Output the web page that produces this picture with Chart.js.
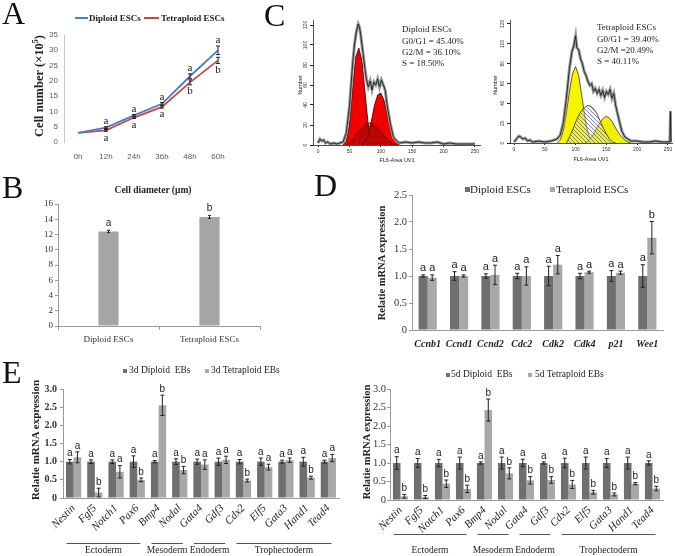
<!DOCTYPE html>
<html>
<head>
<meta charset="utf-8">
<title>Diploid vs tetraploid ESCs</title>
<script src="https://cdn.jsdelivr.net/npm/chart.js@4.4.1/dist/chart.umd.min.js"></script>
<style>
  body { margin: 0; background: #fff; }
  #fig { position: relative; width: 675px; height: 556px; overflow: hidden; font-family: "Liberation Serif", serif; color: #222; }
  #fig canvas { position: absolute; }
  .t { position: absolute; white-space: nowrap; line-height: 1; }
  .letter { font-size: 32px; color: #111; }
  .mid { transform: translate(-50%, -50%); }
  .rot { transform: translate(-50%, -50%) rotate(-90deg); }
  .lft { transform: translateY(-50%); }
  .sw { position: absolute; }
  .fc { font-size: 9px; }
  .tiny { font-family: "Liberation Sans", sans-serif; font-size: 5.5px; }
</style>
</head>
<body>
<div id="fig">
  <canvas id="chartA" width="240" height="170" style="left:0;top:0"></canvas>
  <canvas id="chartB" width="300" height="180" style="left:0;top:170px"></canvas>
  <canvas id="chartC1" width="200" height="160" style="left:285px;top:10px"></canvas>
  <canvas id="chartC2" width="193" height="160" style="left:482px;top:10px"></canvas>
  <canvas id="chartD" width="375" height="180" style="left:300px;top:170px"></canvas>
  <canvas id="chartE1" width="340" height="206" style="left:0;top:350px"></canvas>
  <canvas id="chartE2" width="340" height="206" style="left:335px;top:350px"></canvas>

  <!-- panel letters -->
  <div class="t letter" style="left:2px;top:-3px">A</div>
  <div class="t letter" style="left:2px;top:171px">B</div>
  <div class="t letter" style="left:264px;top:-1px">C</div>
  <div class="t letter" style="left:314px;top:169px">D</div>
  <div class="t letter" style="left:2px;top:356px">E</div>

  <!-- A legend + axis title -->
  <div class="sw" style="left:75px;top:17px;width:13px;height:2px;background:#4a7ebb"></div>
  <div class="t lft" style="left:89px;top:18px;font-size:9px;font-weight:bold">Diploid ESCs</div>
  <div class="sw" style="left:144px;top:17px;width:15px;height:2px;background:#be4b48"></div>
  <div class="t lft" style="left:161px;top:18px;font-size:9px;font-weight:bold">Tetraploid ESCs</div>
  <div class="t rot" style="left:39px;top:86px;font-size:12.5px;font-weight:bold">Cell number (×10<sup style="font-size:8px">5</sup>)</div>

  <!-- B title -->
  <div class="t mid" style="left:153px;top:191px;font-size:9.5px;font-weight:bold">Cell diameter (μm)</div>

  <!-- C texts -->
  <div class="t lft fc" style="left:402px;top:29px">Diploid ESCs</div>
  <div class="t lft fc" style="left:402px;top:41px">G0/G1 = 45.40%</div>
  <div class="t lft fc" style="left:402px;top:52px">G2/M = 36.10%</div>
  <div class="t lft fc" style="left:402px;top:63px">S = 18.50%</div>
  <div class="t lft fc" style="left:597px;top:27px">Tetraploid ESCs</div>
  <div class="t lft fc" style="left:597px;top:39px">G0/G1 = 39.40%</div>
  <div class="t lft fc" style="left:597px;top:50px">G2/M =20.49%</div>
  <div class="t lft fc" style="left:597px;top:61px">S = 40.11%</div>
  <div class="t rot tiny" style="left:301px;top:85px">Number</div>
  <div class="t rot tiny" style="left:496px;top:85px">Number</div>
  <div class="t mid tiny" style="left:397px;top:161px">FL6-Area UV1</div>
  <div class="t mid tiny" style="left:591px;top:160px">FL6-Area UV1</div>

  <!-- D legend + axis title -->
  <div class="sw" style="left:465px;top:187px;width:5px;height:5px;background:#6f6f6f"></div>
  <div class="t lft" style="left:470px;top:189px;font-size:11px">Diploid ESCs</div>
  <div class="sw" style="left:550px;top:187px;width:5px;height:5px;background:#a8a8a8"></div>
  <div class="t lft" style="left:556px;top:189px;font-size:11px">Tetraploid ESCs</div>
  <div class="t rot" style="left:382px;top:263px;font-size:10.5px;font-weight:bold">Relatie mRNA expression</div>

  <!-- E legends + axis titles -->
  <div class="sw" style="left:123px;top:369px;width:4px;height:4px;background:#6f6f6f"></div>
  <div class="t lft" style="left:129px;top:371px;font-size:9.5px">3d Diploid&nbsp; EBs</div>
  <div class="sw" style="left:205px;top:369px;width:4px;height:4px;background:#a8a8a8"></div>
  <div class="t lft" style="left:211px;top:371px;font-size:9.5px">3d Tetraploid EBs</div>
  <div class="t rot" style="left:35px;top:440px;font-size:11px;font-weight:bold">Relatie mRNA expression</div>

  <div class="sw" style="left:446px;top:373px;width:4px;height:4px;background:#6f6f6f"></div>
  <div class="t lft" style="left:451px;top:375px;font-size:9.5px">5d Diploid&nbsp; EBs</div>
  <div class="sw" style="left:528px;top:373px;width:4px;height:4px;background:#a8a8a8"></div>
  <div class="t lft" style="left:535px;top:375px;font-size:9.5px">5d Tetraploid EBs</div>
  <div class="t rot" style="left:367px;top:442px;font-size:10.5px;font-weight:bold">Relatie mRNA expression</div>
</div>

<script>
// ---- A: growth curve ----
const hours = ['0h', '12h', '24h', '36h', '48h', '60h'];
const diploidCount = [3, 4.7, 8.7, 12.5, 21.5, 30];
const diploidCountErr = [0, 0.3, 0.3, 0.4, 0.8, 1.4];
const diploidCountSig = ['', 'a', 'a', 'a', 'a', 'a'];
const tetraCount = [3, 3.8, 8, 11.5, 19.5, 26.7];
const tetraCountErr = [0, 0.3, 0.3, 0.4, 0.8, 1.0];
const tetraCountSig = ['', 'a', 'a', 'a', 'b', 'b'];

// ---- B: cell diameter ----
const cellTypes = ['Diploid ESCs', 'Tetraploid ESCs'];
const diameter = [12.4, 14.3];
const diameterErr = [0.15, 0.2];
const diameterSig = ['a', 'b'];

// ---- C: flow cytometry (FL6-Area vs count) ----
const dipTraceX = [0, 3, 6, 9, 12, 15, 20, 25, 30, 35, 40, 45, 50, 55, 58, 61, 64, 66, 68, 71, 74, 77, 80, 83, 86, 89, 92, 95, 98, 101, 104, 107, 110, 115, 120, 125, 130, 140, 150, 160, 170, 180, 190, 200, 210, 220, 230, 240, 250];
const dipTraceY = [2, 6, 4, 5, 2, 3, 1, 2, 1, 2, 3, 12, 38, 80, 100, 113, 121, 118, 110, 95, 80, 66, 58, 64, 55, 63, 60, 66, 58, 65, 60, 55, 40, 22, 8, 4, 2, 3, 2, 3, 2, 2, 3, 1, 2, 1, 1, 1, 1];
const dipG1X = [40, 45, 50, 55, 60, 65, 70, 75, 80, 85, 90];
const dipG1Y = [0, 4, 20, 55, 88, 97, 84, 52, 20, 5, 0];
const dipSX = [45, 50, 55, 60, 65, 70, 75, 80, 85, 90, 95, 100, 105, 110, 115, 120, 125];
const dipSY = [0, 2, 5, 9, 13, 17, 20, 22, 22, 20, 17, 13, 9, 5, 3, 1, 0];
const dipG2X = [70, 75, 80, 85, 90, 95, 100, 105, 110, 115, 120, 125, 130];
const dipG2Y = [0, 3, 10, 24, 40, 50, 52, 45, 32, 18, 7, 2, 0];

const tetTraceX = [0, 4, 8, 11, 14, 18, 22, 26, 30, 40, 50, 60, 65, 70, 75, 80, 85, 90, 94, 97, 100, 102, 105, 108, 111, 114, 117, 120, 123, 126, 129, 132, 135, 138, 141, 144, 147, 150, 153, 156, 159, 162, 165, 168, 171, 175, 180, 185, 190, 200, 210, 220, 230, 240, 250, 253, 254, 255];
const tetTraceY = [1, 4, 7, 6, 4, 5, 2, 3, 1, 2, 1, 2, 3, 4, 8, 20, 45, 75, 92, 98, 108, 96, 94, 85, 80, 72, 68, 62, 58, 60, 52, 55, 50, 54, 48, 53, 46, 52, 49, 54, 45, 50, 38, 30, 22, 12, 6, 4, 2, 2, 1, 1, 2, 1, 1, 1, 32, 1];
const tetG1X = [70, 75, 80, 85, 90, 95, 100, 105, 110, 115, 120, 125, 130];
const tetG1Y = [0, 3, 12, 30, 52, 70, 77, 68, 48, 26, 10, 3, 0];
const tetSX = [85, 90, 95, 100, 105, 110, 115, 120, 125, 130, 135, 140, 145, 150, 155, 160, 165];
const tetSY = [0, 6, 13, 21, 28, 33, 36, 38, 37, 34, 29, 22, 15, 9, 4, 1, 0];
const tetG2X = [115, 120, 125, 130, 135, 140, 145, 150, 155, 160, 165, 170, 175, 180, 185, 190];
const tetG2Y = [0, 2, 5, 10, 16, 21, 25, 27, 25, 21, 15, 10, 6, 3, 1, 0];

// ---- D: cell cycle genes ----
const cycleGenes = ['Ccnb1', 'Ccnd1', 'Ccnd2', 'Cdc2', 'Cdk2', 'Cdk4', 'p21', 'Wee1'];
const cycleDip = [1, 1, 1, 1, 1, 1, 1, 1];
const cycleDipErr = [0.02, 0.08, 0.04, 0.05, 0.18, 0.05, 0.1, 0.21];
const cycleDipSig = ['a', 'a', 'a', 'a', 'a', 'a', 'a', 'a'];
const cycleTet = [0.97, 1.0, 1.02, 1.0, 1.21, 1.07, 1.06, 1.71];
const cycleTetErr = [0.05, 0.02, 0.18, 0.17, 0.17, 0.02, 0.03, 0.30];
const cycleTetSig = ['a', 'a', 'a', 'a', 'a', 'a', 'a', 'b'];

// ---- E: lineage markers in EBs ----
const lineageGenes = ['Nestin', 'Fgf5', 'Notch1', 'Pax6', 'Bmp4', 'Nodal', 'Gata4', 'Gdf3', 'Cdx2', 'Elf5', 'Gata3', 'Hand1', 'Tead4'];
const germLayers = ['Ectoderm', 'Mesoderm', 'Endoderm', 'Trophectoderm'];
const layerFirst = [0, 4, 6, 8];
const layerLast = [3, 5, 7, 12];

const dip3 = [1, 1, 1, 1, 1, 1, 1, 1, 1, 1, 1, 1, 1];
const dip3Err = [0.06, 0.05, 0.05, 0.16, 0.03, 0.08, 0.07, 0.1, 0.06, 0.1, 0.04, 0.12, 0.04];
const dip3Sig = ['a', 'a', 'a', 'a', 'a', 'a', 'a', 'a', 'a', 'a', 'a', 'a', 'a'];
const tet3 = [1.12, 0.15, 0.72, 0.5, 2.55, 0.77, 0.92, 1.05, 0.48, 0.85, 1.04, 0.56, 1.1];
const tet3Err = [0.15, 0.12, 0.17, 0.05, 0.28, 0.1, 0.13, 0.1, 0.04, 0.08, 0.06, 0.04, 0.1];
const tet3Sig = ['a', 'b', 'a', 'b', 'b', 'b', 'a', 'a', 'b', 'a', 'a', 'b', 'a'];

const dip5 = [1, 1, 1, 1, 1, 1, 1, 1, 1, 1, 1, 1, 1];
const dip5Err = [0.17, 0.12, 0.1, 0.16, 0.03, 0.16, 0.1, 0.03, 0.13, 0.16, 0.12, 0.16, 0.06];
const dip5Sig = ['a', 'a', 'a', 'a', 'a', 'a', 'a', 'a', 'a', 'a', 'a', 'a', 'a'];
const tet5 = [0.1, 0.08, 0.44, 0.3, 2.43, 0.72, 0.53, 0.54, 0.42, 0.21, 0.15, 0.44, 0.31];
const tet5Err = [0.05, 0.04, 0.1, 0.1, 0.3, 0.15, 0.1, 0.09, 0.11, 0.05, 0.04, 0.03, 0.06];
const tet5Sig = ['b', 'b', 'b', 'b', 'b', 'b', 'b', 'b', 'b', 'b', 'b', 'b', 'b'];

const DARK = '#6f6f6f';
const LIGHT = '#a8a8a8';
const SERIF = 'Liberation Serif';
const SANS = 'Liberation Sans';

Chart.defaults.animation = false;
Chart.defaults.responsive = false;
Chart.defaults.devicePixelRatio = 1;
Chart.defaults.font.family = SERIF;
Chart.defaults.plugins.legend.display = false;
Chart.defaults.plugins.tooltip.enabled = false;

// error bars + significance letters, read from dataset.err / dataset.sig
const errorBars = {
  id: 'errorBars',
  afterDatasetsDraw(chart, args, opts) {
    const ctx = chart.ctx;
    const ys = chart.scales.y;
    chart.data.datasets.forEach((ds, di) => {
      if (!ds.err) return;
      const meta = chart.getDatasetMeta(di);
      meta.data.forEach((el, i) => {
        const v = ds.data[i], e = ds.err[i];
        const x = el.x;
        const top = ys.getPixelForValue(v + e);
        const bot = ys.getPixelForValue(v - e);
        ctx.save();
        ctx.strokeStyle = '#222';
        ctx.lineWidth = 1;
        if (e > 0) {
          ctx.beginPath();
          ctx.moveTo(x, top); ctx.lineTo(x, bot);
          ctx.moveTo(x - opts.cap, top); ctx.lineTo(x + opts.cap, top);
          ctx.moveTo(x - opts.cap, bot); ctx.lineTo(x + opts.cap, bot);
          ctx.stroke();
        }
        if (ds.sig && ds.sig[i]) {
          ctx.font = opts.font;
          ctx.fillStyle = '#222';
          ctx.textAlign = 'center';
          if (ds.sigBelow) {
            ctx.textBaseline = 'top';
            ctx.fillText(ds.sig[i], x, bot + opts.below);
          } else {
            ctx.textBaseline = 'bottom';
            ctx.fillText(ds.sig[i], x, top - opts.gap);
          }
        }
        ctx.restore();
      });
    });
  }
};

// germ layer brackets under panel E
function germLayerPlugin(lineY, textY) {
  return {
    id: 'germLayers',
    afterDraw(chart) {
      const ctx = chart.ctx, xs = chart.scales.x;
      ctx.save();
      ctx.strokeStyle = '#555';
      ctx.lineWidth = 1;
      ctx.fillStyle = '#222';
      ctx.font = '9.5px "' + SERIF + '"';
      ctx.textAlign = 'center';
      ctx.textBaseline = 'middle';
      germLayers.forEach((name, k) => {
        const x0 = xs.getPixelForValue(layerFirst[k]) - 7;
        const x1 = xs.getPixelForValue(layerLast[k]) + 3;
        ctx.beginPath();
        ctx.moveTo(x0, lineY + 0.5);
        ctx.lineTo(x1, lineY + 0.5);
        ctx.stroke();
        ctx.fillText(name, (x0 + x1) / 2, textY);
      });
      ctx.restore();
    }
  };
}

// rotated y tick labels for the flow histograms
const rotYTicks = {
  id: 'rotYTicks',
  afterDraw(chart) {
    const s = chart.scales.y, ctx = chart.ctx;
    ctx.save();
    ctx.font = '5px "' + SANS + '"';
    ctx.fillStyle = '#333';
    ctx.textAlign = 'center';
    ctx.textBaseline = 'middle';
    s.ticks.forEach(t => {
      ctx.save();
      ctx.translate(s.right - 7, s.getPixelForValue(t.value));
      ctx.rotate(-Math.PI / 2);
      ctx.fillText(String(t.value), 0, 0);
      ctx.restore();
    });
    ctx.restore();
  }
};

function hatch(bg, line) {
  const c = document.createElement('canvas');
  c.width = 4; c.height = 4;
  const g = c.getContext('2d');
  if (bg) { g.fillStyle = bg; g.fillRect(0, 0, 4, 4); }
  g.strokeStyle = line;
  g.lineWidth = 0.8;
  g.beginPath();
  g.moveTo(0, 0); g.lineTo(4, 4);
  g.moveTo(-1, 3); g.lineTo(1, 5);
  g.moveTo(3, -1); g.lineTo(5, 1);
  g.stroke();
  return g.createPattern(c, 'repeat');
}

function pts(xs, ys) {
  return xs.map((x, i) => ({ x: x, y: ys[i] }));
}

// ---- A ----
new Chart(document.getElementById('chartA'), {
  type: 'line',
  data: {
    labels: hours,
    datasets: [
      { data: diploidCount, err: diploidCountErr, sig: diploidCountSig, borderColor: '#4a7ebb', borderWidth: 1.8, pointRadius: 0 },
      { data: tetraCount, err: tetraCountErr, sig: tetraCountSig, sigBelow: true, borderColor: '#be4b48', borderWidth: 1.8, pointRadius: 0 }
    ]
  },
  options: {
    layout: { padding: { left: 0, right: 8, top: 35, bottom: 0 } },
    scales: {
      x: {
        offset: true,
        grid: { display: false, drawTicks: false },
        border: { display: false },
        ticks: { font: { family: SANS, size: 8 }, color: '#595959', padding: 10 },
        afterFit: s => { s.height = 28; s.paddingLeft = 0; s.paddingRight = 0; }
      },
      y: {
        min: 0, max: 35,
        ticks: { stepSize: 5, font: { family: SANS, size: 8 }, color: '#595959', padding: 6 },
        grid: { display: false, drawTicks: false },
        border: { color: '#c8c8c8' },
        afterFit: s => { s.width = 64; }
      }
    },
    plugins: { errorBars: { cap: 2, gap: 0, below: 1, font: '11px "' + SERIF + '"' } }
  },
  plugins: [errorBars]
});

// ---- B ----
new Chart(document.getElementById('chartB'), {
  type: 'bar',
  data: {
    labels: cellTypes,
    datasets: [{ data: diameter, err: diameterErr, sig: diameterSig, backgroundColor: '#a5a5a5', barPercentage: 0.2, categoryPercentage: 1 }]
  },
  options: {
    layout: { padding: { left: 0, right: 40, top: 34, bottom: 0 } },
    scales: {
      x: {
        grid: { offset: true, drawOnChartArea: false, tickLength: 4, color: '#999' },
        border: { color: '#999' },
        ticks: { font: { size: 9 }, color: '#333', padding: 4 },
        afterFit: s => { s.height = 24; s.paddingLeft = 0; s.paddingRight = 0; }
      },
      y: {
        min: 0, max: 16,
        ticks: { stepSize: 2, font: { size: 9 }, color: '#333', padding: 2 },
        grid: { drawOnChartArea: false, tickLength: 3, color: '#999' },
        border: { color: '#999' },
        afterFit: s => { s.width = 58; }
      }
    },
    plugins: { errorBars: { cap: 1.5, gap: 2, below: 0, font: '10px "' + SANS + '"' } }
  },
  plugins: [errorBars]
});

// ---- C ----
function flowChart(id, pad, xMin, xMax, yMax, xHeight, layers) {
  new Chart(document.getElementById(id), {
    type: 'line',
    data: {
      datasets: layers.map(l => ({
        data: pts(l.x, l.y),
        borderColor: l.border,
        borderWidth: l.width,
        backgroundColor: l.fill || 'transparent',
        fill: l.fill ? 'origin' : false,
        order: l.order,
        pointRadius: 0,
        tension: 0
      }))
    },
    options: {
      layout: { padding: { left: 0, right: pad, top: 10, bottom: 0 } },
      scales: {
        x: {
          type: 'linear', min: xMin, max: xMax,
          ticks: { stepSize: 50, includeBounds: false, font: { family: SANS, size: 5 }, color: '#333', padding: 2 },
          grid: { drawOnChartArea: false, tickLength: 2, color: '#222' },
          border: { color: '#222', width: 0.8 },
          afterFit: s => { s.height = xHeight; s.paddingLeft = 0; s.paddingRight = 0; }
        },
        y: {
          min: 0, max: yMax,
          ticks: { stepSize: 20, includeBounds: false, display: false },
          grid: { drawOnChartArea: false, tickLength: 3, color: '#222' },
          border: { color: '#222', width: 0.8 },
          afterFit: s => { s.width = 28; s.paddingTop = 0; s.paddingBottom = 0; }
        }
      }
    },
    plugins: [rotYTicks]
  });
}

flowChart('chartC1', 5, -8, 258, 125, 25, [
  { x: dipTraceX, y: dipTraceY, border: '#111', width: 0.8, order: 0 },
  { x: dipTraceX, y: dipTraceY, border: '#9a9a9a', width: 3, order: 1 },
  { x: dipSX, y: dipSY, border: '#4a0000', width: 0.8, fill: hatch('rgba(140,0,0,0.35)', 'rgba(70,0,0,0.7)'), order: 2 },
  { x: dipG2X, y: dipG2Y, border: '#300', width: 0.8, fill: '#f00000', order: 3 },
  { x: dipG1X, y: dipG1Y, border: '#300', width: 0.8, fill: '#f00000', order: 4 }
]);

flowChart('chartC2', 3, -6.5, 256.5, 124, 27, [
  { x: tetTraceX, y: tetTraceY, border: '#111', width: 0.8, order: 0 },
  { x: tetTraceX, y: tetTraceY, border: '#9a9a9a', width: 3, order: 1 },
  { x: tetSX, y: tetSY, border: '#333', width: 0.8, fill: hatch('rgba(225,225,245,0.35)', 'rgba(70,70,120,0.8)'), order: 2 },
  { x: tetG2X, y: tetG2Y, border: '#333', width: 0.8, fill: '#f2f000', order: 3 },
  { x: tetG1X, y: tetG1Y, border: '#333', width: 0.8, fill: '#f7f500', order: 4 }
]);

// ---- D / E: paired bar charts ----
function expressionChart(id, labels, dip, dipErr, dipSig, tet, tetErr, tetSig, o) {
  new Chart(document.getElementById(id), {
    type: 'bar',
    data: {
      labels: labels,
      datasets: [
        { data: dip, err: dipErr, sig: dipSig, backgroundColor: DARK, categoryPercentage: o.catPct, barPercentage: 1 },
        { data: tet, err: tetErr, sig: tetSig, backgroundColor: LIGHT, categoryPercentage: o.catPct, barPercentage: 1 }
      ]
    },
    options: {
      layout: { padding: { left: 0, right: o.padRight, top: o.padTop, bottom: 0 } },
      scales: {
        x: {
          grid: { display: false, drawTicks: false },
          border: { color: '#999' },
          ticks: { font: o.xFont, color: '#222', padding: o.xPad, minRotation: o.rot, maxRotation: o.rot, autoSkip: false },
          afterFit: s => { s.height = o.xHeight; s.paddingLeft = 0; s.paddingRight = 0; }
        },
        y: {
          min: 0, max: o.yMax,
          ticks: { stepSize: 0.5, font: o.yFont, color: '#333', padding: o.yPad },
          grid: { drawOnChartArea: false, tickLength: 3, color: '#999' },
          border: { color: '#999' },
          afterFit: s => { s.width = o.yWidth; }
        }
      },
      plugins: { errorBars: { cap: 2, gap: 1, below: 0, font: o.sigFont } }
    },
    plugins: o.extra ? [errorBars, o.extra] : [errorBars]
  });
}

expressionChart('chartD', cycleGenes, cycleDip, cycleDipErr, cycleDipSig, cycleTet, cycleTetErr, cycleTetSig, {
  catPct: 0.58, padRight: 12, padTop: 25, xHeight: 20, yWidth: 112, yMax: 2.5, rot: 0, xPad: 8,
  xFont: { size: 10, style: 'italic', weight: 'bold' }, yFont: { size: 10.5 }, yPad: 2,
  sigFont: '11px "' + SANS + '"'
});

expressionChart('chartE1', lineageGenes, dip3, dip3Err, dip3Sig, tet3, tet3Err, tet3Sig, {
  catPct: 0.72, padRight: 1, padTop: 39, xHeight: 58, yWidth: 63, yMax: 3, rot: 45, xPad: 4,
  xFont: { size: 11, style: 'italic' }, yFont: { size: 10, weight: 'bold' }, yPad: 3,
  sigFont: '10px "' + SANS + '"', extra: germLayerPlugin(193, 200)
});

expressionChart('chartE2', lineageGenes, dip5, dip5Err, dip5Sig, tet5, tet5Err, tet5Sig, {
  catPct: 0.72, padRight: 12, padTop: 39, xHeight: 56, yWidth: 55, yMax: 3, rot: 45, xPad: 4,
  xFont: { size: 11, style: 'italic' }, yFont: { size: 10.5 }, yPad: 1,
  sigFont: '10px "' + SANS + '"', extra: germLayerPlugin(184, 200)
});
</script>
</body>
</html>
